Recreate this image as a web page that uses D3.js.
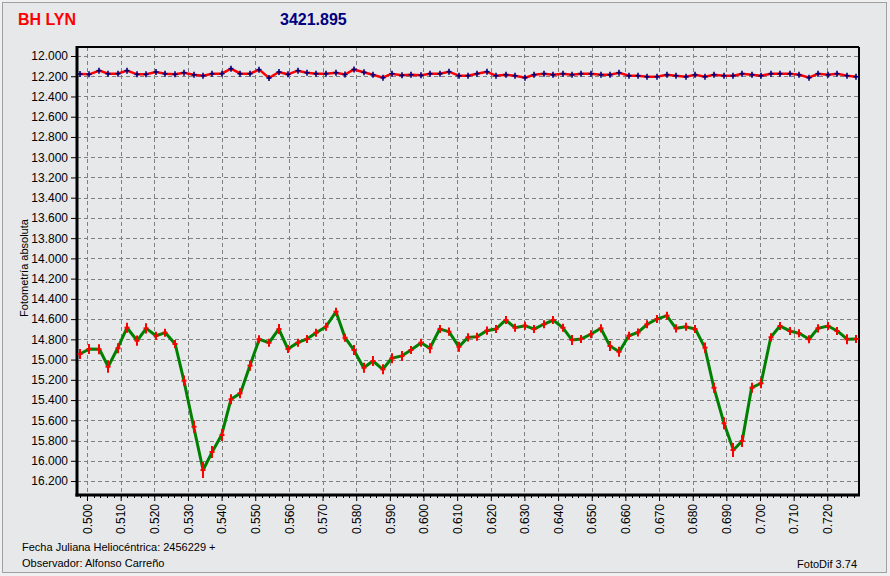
<!DOCTYPE html>
<html><head><meta charset="utf-8">
<script src="https://cdn.jsdelivr.net/npm/d3@7"></script>
<style>html,body{margin:0;padding:0;background:#f0f0f0;}svg{display:block;}</style>
</head><body>
<script>
const hjd = [0.4979,0.5007,0.5037,0.5063,0.5091,0.5119,0.5149,0.5176,0.5205,0.5233,0.5262,0.5288,0.5317,0.5345,0.5372,0.5400,0.5428,0.5456,0.5484,0.5512,0.5541,0.5570,0.5597,0.5626,0.5654,0.5681,0.5710,0.5740,0.5767,0.5793,0.5822,0.5850,0.5879,0.5905,0.5935,0.5963,0.5993,0.6019,0.6048,0.6076,0.6105,0.6132,0.6159,0.6188,0.6215,0.6244,0.6272,0.6302,0.6329,0.6357,0.6386,0.6414,0.6441,0.6469,0.6497,0.6527,0.6554,0.6582,0.6610,0.6637,0.6665,0.6694,0.6723,0.6750,0.6779,0.6808,0.6836,0.6863,0.6893,0.6921,0.6947,0.6975,0.7003,0.7032,0.7059,0.7089,0.7117,0.7146,0.7172,0.7202,0.7230,0.7259,0.7286];
const variableMag = [14.945,14.895,14.898,15.070,14.888,14.685,14.813,14.691,14.764,14.734,14.846,15.208,15.663,16.091,15.913,15.745,15.392,15.333,15.060,14.799,14.833,14.698,14.895,14.833,14.796,14.734,14.675,14.527,14.784,14.905,15.080,15.014,15.096,14.987,14.964,14.905,14.833,14.888,14.698,14.724,14.873,14.780,14.774,14.714,14.698,14.609,14.685,14.665,14.698,14.651,14.609,14.685,14.806,14.796,14.750,14.691,14.866,14.922,14.764,14.732,14.651,14.599,14.566,14.691,14.675,14.698,14.882,15.278,15.629,15.893,15.804,15.278,15.234,14.780,14.668,14.717,14.740,14.799,14.691,14.668,14.717,14.799,14.796];
const variableErr = [0.05,0.05,0.05,0.06,0.05,0.05,0.05,0.05,0.04,0.04,0.04,0.05,0.06,0.08,0.06,0.06,0.05,0.05,0.05,0.04,0.04,0.05,0.04,0.04,0.04,0.04,0.04,0.04,0.04,0.05,0.05,0.05,0.05,0.05,0.05,0.04,0.04,0.05,0.04,0.04,0.05,0.04,0.04,0.04,0.04,0.04,0.04,0.04,0.04,0.04,0.04,0.04,0.05,0.04,0.04,0.04,0.05,0.05,0.04,0.04,0.04,0.04,0.04,0.04,0.04,0.04,0.05,0.05,0.06,0.07,0.06,0.05,0.05,0.04,0.04,0.04,0.04,0.04,0.04,0.04,0.04,0.05,0.04];
const compMag = [12.178,12.181,12.145,12.175,12.175,12.145,12.181,12.181,12.158,12.175,12.181,12.165,12.185,12.195,12.175,12.175,12.125,12.175,12.175,12.135,12.217,12.158,12.181,12.145,12.165,12.175,12.175,12.165,12.183,12.133,12.161,12.185,12.214,12.175,12.191,12.185,12.191,12.175,12.175,12.155,12.195,12.195,12.175,12.155,12.195,12.185,12.195,12.214,12.185,12.175,12.185,12.175,12.185,12.175,12.175,12.185,12.185,12.165,12.195,12.195,12.205,12.205,12.185,12.195,12.205,12.185,12.205,12.185,12.195,12.195,12.175,12.185,12.195,12.175,12.175,12.175,12.185,12.214,12.175,12.185,12.175,12.195,12.205];
const yTicks = d3.range(0,22).map(i => 12 + i*0.2);
const xTicks = d3.range(0,23).map(i => 0.5 + i*0.01);
const xMinor = d3.range(0,118).map(i => 0.498 + i*0.002);
const titleText = "BH LYN";
const starText = "3421.895";
const yLabel = "Fotometría absoluta";
const footer1 = "Fecha Juliana Heliocéntrica: 2456229 +";
const footer2 = "Observador: Alfonso Carreño";
const footer3 = "FotoDif 3.74";

const W = 890, H = 576;
const L = 77, R = 859, T = 47, B = 495;
const svg = d3.select("body").append("svg").attr("width", W).attr("height", H);
svg.append("rect").attr("x",0).attr("y",0).attr("width",W).attr("height",H).attr("fill","#f0f0f0");
svg.append("rect").attr("x",2.5).attr("y",2.5).attr("width",884).attr("height",570).attr("fill","#e7e8ea").attr("stroke","#a0a0a0").attr("stroke-width",1);

const x = d3.scaleLinear().domain([0.49703, 0.72942]).range([L, R]);
const y = d3.scaleLinear().domain([11.911, 16.338]).range([T, B]);

// grid
const grid = svg.append("g").attr("stroke","#808080").attr("stroke-width",1).attr("stroke-dasharray","4,3");
grid.selectAll("line.v").data(xTicks).join("line").attr("class","v")
  .attr("x1", d => Math.round(x(d))+0.5).attr("x2", d => Math.round(x(d))+0.5).attr("y1", T).attr("y2", B);
grid.selectAll("line.h").data(yTicks).join("line").attr("class","h")
  .attr("y1", d => Math.round(y(d))+0.5).attr("y2", d => Math.round(y(d))+0.5).attr("x1", L).attr("x2", R);

// axes
const yAxis = d3.axisLeft(y).tickValues(yTicks).tickFormat(d3.format(".3f")).tickSize(5).tickPadding(3);
const gy = svg.append("g").attr("transform", `translate(${L-1},0)`).call(yAxis);
gy.select(".domain").remove();
gy.selectAll("text").attr("font-family","Arial, 'Liberation Sans', sans-serif").attr("font-size","12px").attr("fill","#000");
gy.selectAll("line").attr("stroke","#000");

const xAxis = d3.axisBottom(x).tickValues(xTicks).tickFormat(d3.format(".3f")).tickSize(5).tickPadding(4);
const gx = svg.append("g").attr("transform", `translate(0,${B+1})`).call(xAxis);
gx.select(".domain").remove();
gx.selectAll("line").attr("stroke","#000");
gx.selectAll("text").attr("font-family","Arial, 'Liberation Sans', sans-serif").attr("font-size","12px").attr("fill","#000")
  .attr("transform","rotate(-90)").attr("text-anchor","end").attr("x",-8).attr("y",0).attr("dy","0.35em");
svg.append("g").selectAll("line").data(xMinor.filter(d => d > x.domain()[0] && d < x.domain()[1]))
  .join("line").attr("x1", d => Math.round(x(d))+0.5).attr("x2", d => Math.round(x(d))+0.5)
  .attr("y1", B+1).attr("y2", B+3).attr("stroke","#000");

// frame
svg.append("line").attr("x1",L).attr("x2",R).attr("y1",T).attr("y2",T).attr("stroke","#000").attr("stroke-width",2);
svg.append("line").attr("x1",R).attr("x2",R).attr("y1",T).attr("y2",B).attr("stroke","#000").attr("stroke-width",2);
svg.append("line").attr("x1",L).attr("x2",L).attr("y1",T-1).attr("y2",B+1.5).attr("stroke","#000").attr("stroke-width",3);
svg.append("line").attr("x1",L-1.5).attr("x2",R+1).attr("y1",B).attr("y2",B).attr("stroke","#000").attr("stroke-width",3);

const comp = hjd.map((d,i) => ({x:d, y:compMag[i]}));
const vari = hjd.map((d,i) => ({x:d, y:variableMag[i], e:variableErr[i]}));
const line = d3.line().x(d => x(d.x)).y(d => y(d.y));

// comparison star
svg.append("path").datum(comp).attr("d", line).attr("fill","none").attr("stroke","#ff0000").attr("stroke-width",2.5);
const cm = svg.append("g").attr("stroke","#000080").attr("stroke-width",1.6);
comp.forEach(d => {
  const px = Math.round(x(d.x)), py = y(d.y);
  cm.append("line").attr("x1",px-2.5).attr("x2",px+2.5).attr("y1",py).attr("y2",py);
  cm.append("line").attr("x1",px).attr("x2",px).attr("y1",py-3).attr("y2",py+3);
});

// variable star
svg.append("path").datum(vari).attr("d", line).attr("fill","none").attr("stroke","#008000").attr("stroke-width",3);
const vm = svg.append("g").attr("stroke","#ff0000").attr("stroke-width",2);
vari.forEach(d => {
  const px = Math.round(x(d.x));
  vm.append("line").attr("x1",px-2.5).attr("x2",px+2.5).attr("y1",y(d.y)).attr("y2",y(d.y));
  vm.append("line").attr("x1",px).attr("x2",px).attr("y1",y(d.y - d.e)).attr("y2",y(d.y + d.e));
});

// texts
svg.append("text").attr("x",18).attr("y",25).text(titleText)
  .attr("font-family","Arial, 'Liberation Sans', sans-serif").attr("font-weight","bold").attr("font-size","16px").attr("fill","#ff0000");
svg.append("text").attr("x",280).attr("y",25).text(starText)
  .attr("font-family","Arial, 'Liberation Sans', sans-serif").attr("font-weight","bold").attr("font-size","16px").attr("fill","#000080");
svg.append("text").attr("transform","translate(28,268) rotate(-90)").attr("text-anchor","middle").text(yLabel)
  .attr("font-family","'Liberation Sans', Arial, sans-serif").attr("font-size","11px").attr("fill","#000");
svg.append("text").attr("x",22).attr("y",551).text(footer1)
  .attr("font-family","'Liberation Sans', Arial, sans-serif").attr("font-size","11px").attr("fill","#000");
svg.append("text").attr("x",22).attr("y",567).text(footer2)
  .attr("font-family","'Liberation Sans', Arial, sans-serif").attr("font-size","11px").attr("fill","#000");
svg.append("text").attr("x",857).attr("y",568).attr("text-anchor","end").text(footer3)
  .attr("font-family","'Liberation Sans', Arial, sans-serif").attr("font-size","11px").attr("fill","#000");
</script>
</body></html>
